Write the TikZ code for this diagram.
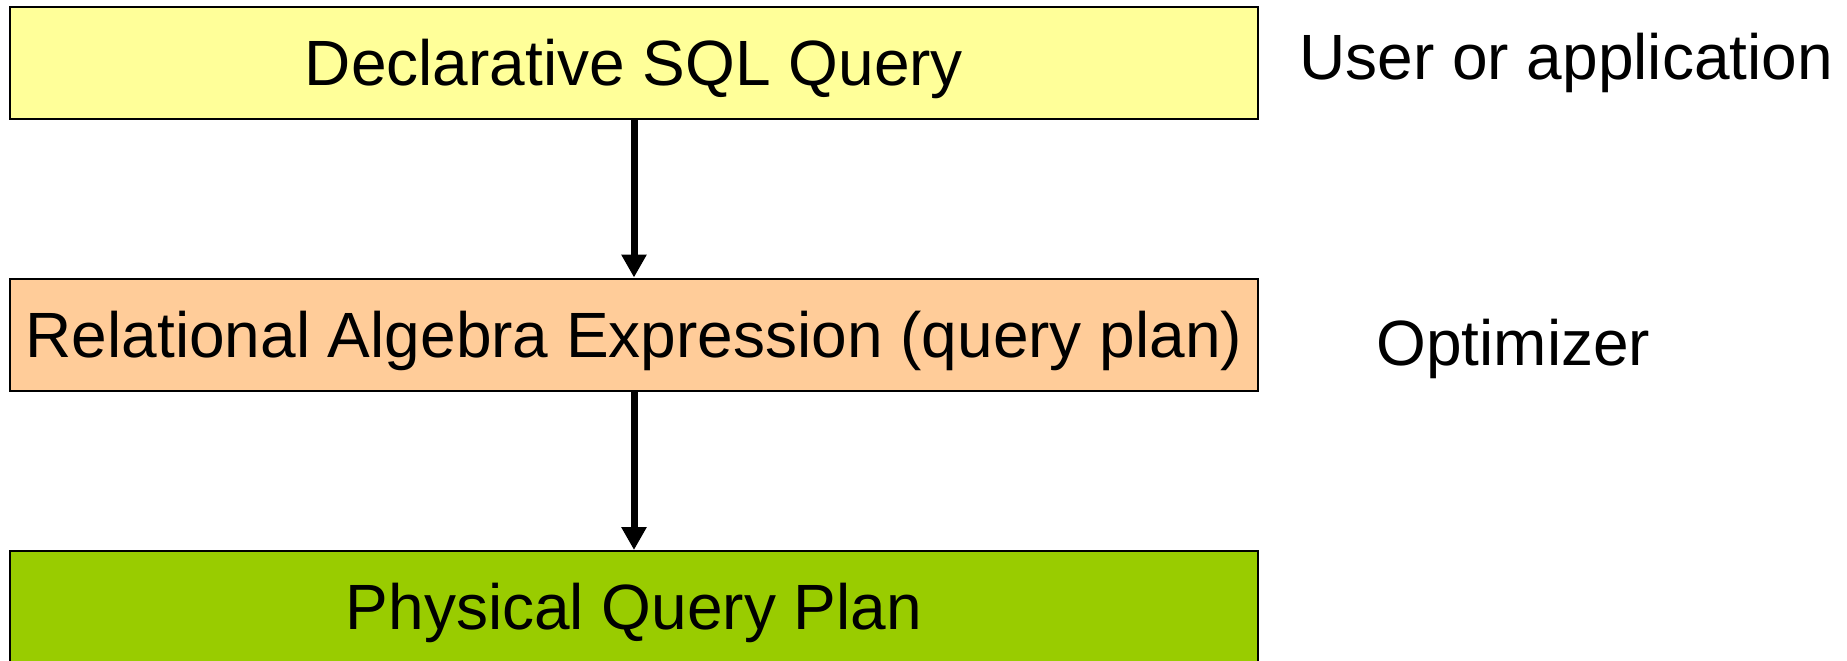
\documentclass[tikz,border=0pt]{standalone}
\usepackage{fontspec}
\setmainfont{Liberation Sans}
\usetikzlibrary{arrows.meta}
\definecolor{sqlyellow}{HTML}{FFFF99}
\definecolor{raorange}{HTML}{FFCC99}
\definecolor{physgreen}{HTML}{99CC00}
\tikzset{
  stage/.style={draw=black, line width=1pt, minimum width=624pt, minimum height=56pt,
    inner sep=0pt, text height=29pt, text depth=6.5pt, font=\fontsize{32}{38}\selectfont},
  role/.style={font=\fontsize{32}{38}\selectfont, inner sep=0pt},
  flow/.style={line width=3.5pt, -{Triangle[width=12pt,length=11.5pt]}}
}
\begin{document}
\begin{tikzpicture}[x=0.5pt,y=-0.5pt]
        \useasboundingbox (0,0) rectangle (1847,660);
        \node[stage, fill=sqlyellow] at (634,63) (sql) {Declarative SQL Query};
        \node[stage, fill=raorange] at (634,334.5) (ra) {Relational Algebra Expression (query plan)};
        \node[stage, fill=physgreen] at (634,607) (phys) {Physical Query Plan};
        \node[role, anchor=west] at (1299,63) (user) {User or application};
        \node[role, anchor=west] at (1376,349) (opt) {Optimizer};
        \draw[flow] (sql) to (ra);
        \draw[flow] (ra) to (phys);
      \end{tikzpicture}
\end{document}
